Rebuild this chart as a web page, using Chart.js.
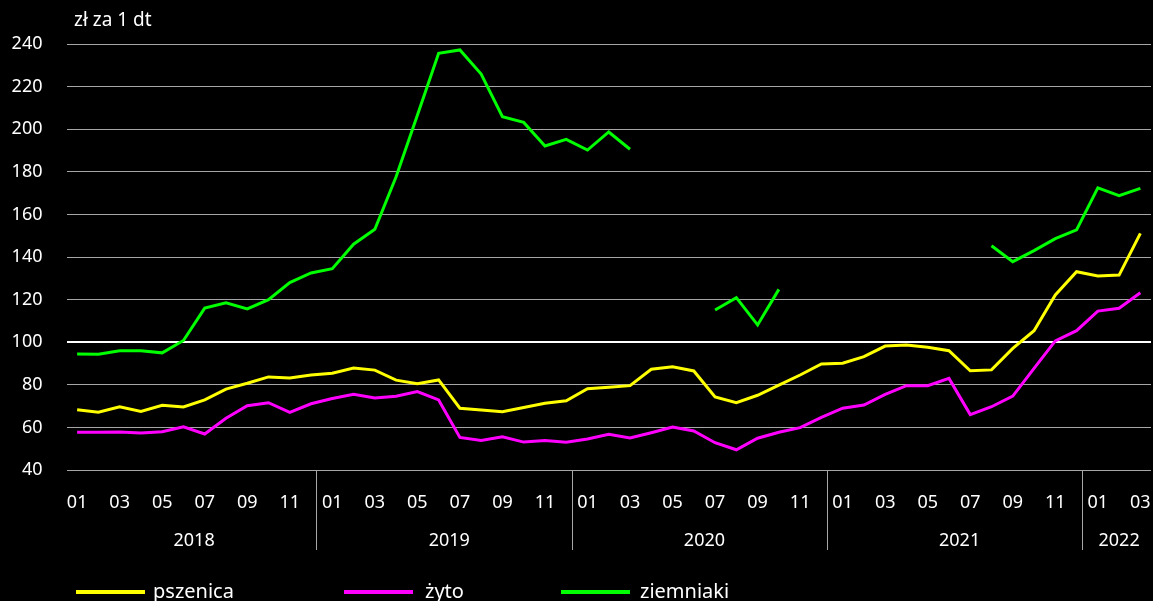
<!DOCTYPE html>
<html lang="pl">
<head>
<meta charset="utf-8">
<script src="https://cdn.jsdelivr.net/npm/chart.js@4/dist/chart.umd.min.js"></script>
<style>
    html, body { margin: 0; padding: 0; background: #000; overflow: hidden; }
    #wrap { width: 1153px; height: 601px; position: relative; }
</style>
</head>
<body>
<div id="wrap"><canvas id="chart"></canvas></div>
<script>
// monthly prices, 2018-01 .. 2022-03
const years = ['2018', '2019', '2020', '2021', '2022'];
const monthsInYear = [12, 12, 12, 12, 3];
const yTicks = [40, 60, 80, 100, 120, 140, 160, 180, 200, 220, 240];
const unitLabel = 'zł za 1 dt';

const pszenica = [
    68.3, 67.1, 69.7, 67.5, 70.4, 69.6, 72.9, 78.0, 80.7, 83.7, 83.2, 84.6,
    85.4, 87.9, 86.9, 82.2, 80.5, 82.3, 69.0, 68.2, 67.4, 69.3, 71.3, 72.5,
    78.2, 78.8, 79.6, 87.3, 88.5, 86.5, 74.3, 71.6, 75.1, 79.8, 84.6, 89.8,
    90.1, 93.2, 98.2, 98.7, 97.6, 96.0, 86.6, 87.0, 97.1, 105.4, 122.2, 133.1,
    131.1, 131.5, 151.1
];
const zyto = [
    57.7, 57.7, 57.8, 57.4, 58.0, 60.3, 56.9, 64.3, 70.2, 71.6, 67.1, 71.1,
    73.6, 75.5, 73.8, 74.6, 76.8, 72.9, 55.3, 53.9, 55.6, 53.1, 53.8, 53.0,
    54.6, 56.8, 55.0, 57.5, 60.2, 58.3, 52.8, 49.5, 54.9, 57.7, 59.9, 64.7,
    69.0, 70.5, 75.5, 79.6, 79.6, 83.0, 66.0, 69.7, 74.7, 87.7, 100.6, 105.4,
    114.6, 115.9, 123.2
];
const ziemniaki = [
    94.5, 94.4, 96.0, 96.0, 95.0, 100.8, 116.0, 118.5, 115.6, 120.0, 128.0, 132.5,
    134.5, 146.0, 153.0, 177.7, 206.6, 235.6, 237.2, 225.9, 205.9, 203.2, 192.1, 195.2,
    190.2, 198.7, 190.6, null, null, null, 115.1, 120.9, 108.1, 124.8, null, null,
    null, null, null, null, null, null, null, 145.3, 137.8, 143.0, 148.6, 152.7,
    172.5, 168.8, 172.2
];

const FONT = '"Noto Sans", "Open Sans", sans-serif';
const GRID = '#a6a6a6';

const labels = [];
years.forEach((y, i) => {
    for (let m = 1; m <= monthsInYear[i]; m++) {
        labels.push(y + '-' + String(m).padStart(2, '0'));
    }
});

const series = [
    { label: 'pszenica', data: pszenica, color: '#ffff00' },
    { label: 'żyto', data: zyto, color: '#ff00ff' },
    { label: 'ziemniaki', data: ziemniaki, color: '#00ff00' }
];

// year labels, separators, unit label and legend
const extras = {
    id: 'extras',
    afterDraw(chart) {
        const ctx = chart.ctx;
        const x = chart.scales.x;
        const area = chart.chartArea;
        const step = x.getPixelForValue(1) - x.getPixelForValue(0);
        ctx.save();

        let start = 0;
        years.forEach((y, i) => {
            const end = start + monthsInYear[i] - 1;
            if (i > 0) {
                const sx = Math.round(x.getPixelForValue(start) - step * 0.75) + 0.5;
                ctx.strokeStyle = GRID;
                ctx.lineWidth = 1;
                ctx.beginPath();
                ctx.moveTo(sx, area.bottom);
                ctx.lineTo(sx, area.bottom + 80);
                ctx.stroke();
            }
            const cx = (x.getPixelForValue(start) + x.getPixelForValue(end)) / 2;
            ctx.fillStyle = '#fff';
            ctx.font = '18px ' + FONT;
            ctx.textAlign = 'center';
            ctx.textBaseline = 'middle';
            ctx.fillText(y, cx, area.bottom + 71);
            start = end + 1;
        });

        ctx.textAlign = 'left';
        ctx.textBaseline = 'middle';
        ctx.font = '19px ' + FONT;
        ctx.fillText(unitLabel, 74, 21);

        const lineX = [76, 344, 561];
        const textX = [153, 425, 640];
        ctx.font = '20px ' + FONT;
        series.forEach((s, i) => {
            ctx.strokeStyle = s.color;
            ctx.lineWidth = 4;
            ctx.beginPath();
            ctx.moveTo(lineX[i], 592);
            ctx.lineTo(lineX[i] + 69, 592);
            ctx.stroke();
            ctx.fillStyle = '#fff';
            ctx.fillText(s.label, textX[i], 592);
        });
        ctx.restore();
    }
};

new Chart(document.getElementById('chart'), {
    type: 'line',
    data: {
        labels: labels,
        datasets: series.map(s => ({
            label: s.label,
            data: s.data,
            borderColor: s.color,
            backgroundColor: s.color,
            borderWidth: 3,
            pointRadius: 0,
            tension: 0,
            spanGaps: false
        }))
    },
    plugins: [extras],
    options: {
        responsive: true,
        maintainAspectRatio: false,
        animation: false,
        layout: { padding: { top: 44, right: 2, left: 0, bottom: 0 } },
        plugins: {
            legend: { display: false },
            tooltip: { enabled: false }
        },
        scales: {
            x: {
                offset: true,
                grid: { display: false, drawTicks: false },
                border: { display: false },
                afterFit: function(scale) {
                    scale.height = 131;
                    scale.paddingLeft = 0;
                    scale.paddingRight = 0;
                },
                ticks: {
                    autoSkip: false,
                    maxRotation: 0,
                    padding: 22,
                    color: '#fff',
                    font: { family: FONT, size: 18 },
                    callback: function(value) {
                        const m = parseInt(labels[value].slice(5), 10);
                        return m % 2 === 1 ? labels[value].slice(5) : '';
                    }
                }
            },
            y: {
                min: yTicks[0],
                max: yTicks[yTicks.length - 1],
                afterFit: function(scale) { scale.width = 66.5; },
                afterBuildTicks: function(scale) {
                    scale.ticks = yTicks.map(v => ({ value: v }));
                },
                grid: {
                    drawTicks: false,
                    color: ctx => ctx.tick && ctx.tick.value === 100 ? '#ffffff' : GRID,
                    lineWidth: ctx => ctx.tick && ctx.tick.value === 100 ? 2 : 1
                },
                border: { display: false },
                ticks: {
                    padding: 24,
                    color: '#fff',
                    font: { family: FONT, size: 18 }
                }
            }
        }
    }
});
</script>
</body>
</html>
